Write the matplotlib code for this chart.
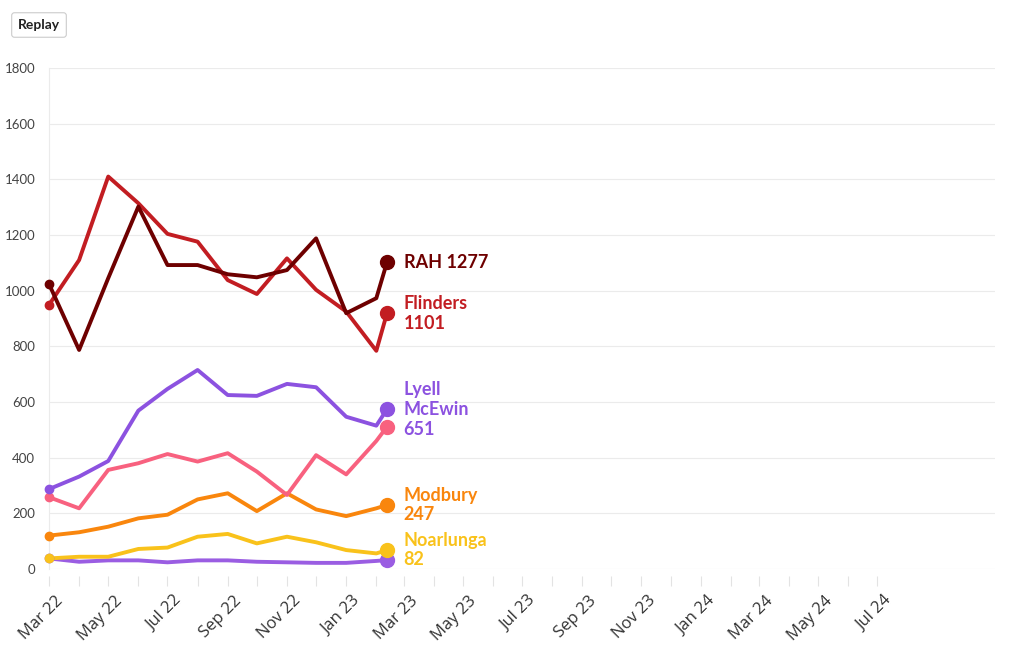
import numpy as np
import pandas as pd
import matplotlib
matplotlib.use("Agg")
import matplotlib.pyplot as plt
import matplotlib.dates as mdates
import matplotlib.transforms as mtransforms

dates = pd.to_datetime(["2022-03-01", "2022-04-01", "2022-05-01", "2022-06-01", "2022-07-01",
                        "2022-08-01", "2022-09-01", "2022-10-01", "2022-11-01", "2022-12-01",
                        "2023-01-01", "2023-02-01", "2023-02-12"])

rah = [1024, 787, 1045, 1302, 1092, 1092, 1059, 1048, 1074, 1188, 919, 973, 1102]
flinders = [949, 1110, 1410, 1314, 1204, 1176, 1038, 988, 1116, 1003, 925, 784, 919]
lyell = [287, 332, 388, 569, 647, 715, 625, 622, 665, 653, 547, 515, 574]
pink = [258, 218, 356, 380, 413, 386, 416, 350, 266, 409, 340, 460, 511]
modbury = [120, 132, 152, 182, 195, 250, 272, 208, 272, 214, 190, 218, 230]
noarlunga = [38, 44, 44, 72, 77, 116, 126, 92, 116, 96, 68, 56, 68]
purple_low = [38, 26, 31, 31, 24, 31, 31, 26, 24, 22, 22, 29, 32]

series = [
    (purple_low, "#9a5de2", None),
    (noarlunga, "#f9c21b", "Noarlunga\n82"),
    (modbury, "#f9860d", "Modbury\n247"),
    (pink, "#f8617f", None),
    (lyell, "#8c52e0", "Lyell\nMcEwin\n651"),
    (flinders, "#c21d22", "Flinders\n1101"),
    (rah, "#6e0000", "RAH 1277"),
]

fig = plt.figure(figsize=(10.2, 6.5), dpi=100)
ax = fig.add_axes([49 / 1020, 1 - 569 / 650, (995 - 49) / 1020, (569 - 68) / 650])

for vals, col, label in series:
    ax.plot(dates, vals, color=col, lw=2.8, solid_capstyle="round", solid_joinstyle="round", zorder=3)
    ax.plot(dates[0], vals[0], "o", color=col, ms=6, zorder=4, clip_on=False)
    ax.plot(dates[-1], vals[-1], "o", color=col, ms=10, zorder=4, clip_on=False)
    if label:
        ax.annotate(label, (dates[-1], vals[-1]), xytext=(12, 0), textcoords="offset points",
                    va="center", ha="left", color=col, fontsize=13, fontweight="bold",
                    family="Lato", linespacing=1.2)

ax.set_ylim(0, 1800)
ax.set_yticks(range(0, 1801, 200))
ax.grid(axis="y", color="#ebebeb", lw=0.8)
ax.set_axisbelow(True)

for s in ["top", "right"]:
    ax.spines[s].set_visible(False)
ax.spines["left"].set_color("#ebebeb")
ax.spines["left"].set_linewidth(0.8)
ax.spines["bottom"].set_position(("outward", 5))
ax.spines["bottom"].set_visible(False)

start = pd.Timestamp("2022-03-01").to_pydatetime()
end = pd.Timestamp("2024-07-01").to_pydatetime()
major = mdates.MonthLocator(bymonth=[1, 3, 5, 7, 9, 11]).tick_values(start, end)
minor = mdates.MonthLocator().tick_values(start, end)
last_tick = mdates.date2num(end)
ax.set_xticks([m for m in major if m <= last_tick])
ax.set_xticks([m for m in minor if m <= last_tick], minor=True)
ax.xaxis.set_major_formatter(mdates.DateFormatter("%b %y"))
ax.set_xlim(pd.Timestamp("2022-03-01"), pd.Timestamp("2024-10-30"))

ax.tick_params(axis="x", which="both", length=7, color="#e3e3e3", width=0.8, pad=5,
               labelsize=12, labelcolor="#333333")
ax.tick_params(axis="y", length=0, pad=10, labelsize=9.5, labelcolor="#444444")
shift = mtransforms.ScaledTranslation(6 / 100, 0, fig.dpi_scale_trans)
for t in ax.get_xticklabels():
    t.set_rotation(45)
    t.set_ha("right")
    t.set_rotation_mode("anchor")
    t.set_family("Open Sans")
    t.set_transform(t.get_transform() + shift)
for t in ax.get_yticklabels():
    t.set_family("Lato")

fig.text(39 / 1020, 1 - 25 / 650, "Replay", ha="center", va="center", fontsize=10,
         fontweight="bold", family="Lato", color="#222222",
         bbox=dict(boxstyle="round,pad=0.45,rounding_size=0.2", fc="white", ec="#cccccc", lw=0.8))

fig.savefig("out.png", dpi=100, facecolor="white")
